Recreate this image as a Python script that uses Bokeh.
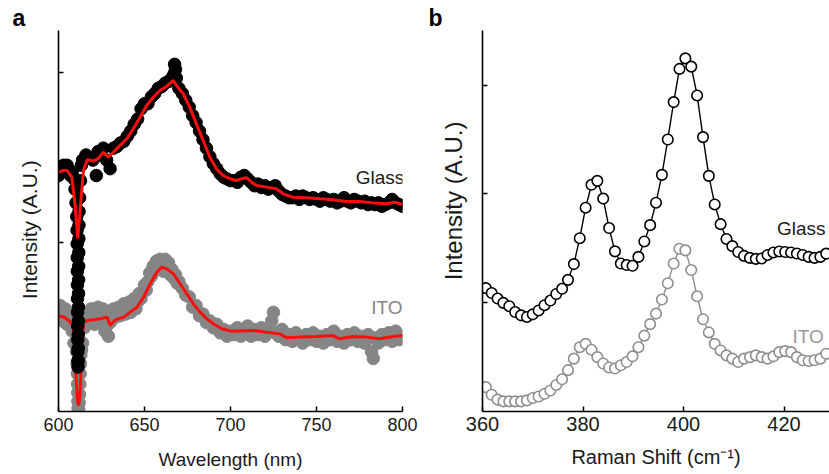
from bokeh.plotting import figure
from bokeh.layouts import row
from bokeh.models import Range1d, FixedTicker, Label
from bokeh.embed import file_html
from bokeh.resources import INLINE

FONT = "Liberation Sans"

# ---------------- Panel a : PL spectra ----------------
wl_ticks = [600, 650, 700, 750, 800]

glass_fit_x = [600, 602.5, 605, 607.8, 609.7, 611.2, 612.9, 614.5, 616.8, 620.3, 623.2, 626.1, 629, 631.9,
               635.8, 639.7, 643.5, 647.4, 651.3, 655.1, 659, 662.8, 665.7, 666.7, 668.6, 672.5, 676.3,
               680.2, 684.1, 688, 691.8, 695.7, 699.6, 703.5, 706.4, 709.3, 712.2, 715.1, 720.9, 726.7,
               730.6, 736.4, 744.2, 751.9, 759.7, 767.4, 775.1, 782.9, 790.6, 795.4, 800]
glass_fit_y = [1.399, 1.409, 1.409, 1.370, 1.199, 1.012, 1.216, 1.409, 1.474, 1.464, 1.480, 1.516, 1.487,
               1.516, 1.556, 1.595, 1.653, 1.721, 1.789, 1.838, 1.877, 1.901, 1.926, 1.936, 1.906, 1.858,
               1.780, 1.682, 1.585, 1.487, 1.419, 1.380, 1.361, 1.351, 1.361, 1.367, 1.341, 1.322, 1.312,
               1.302, 1.273, 1.253, 1.250, 1.244, 1.238, 1.228, 1.228, 1.220, 1.215, 1.224, 1.211]

glass_dot_x = [600, 601, 602, 603, 604, 605, 606, 607, 608, 609, 609.6, 610.2, 610.6,
               610.8, 610.85, 610.9, 610.95, 611.0, 611.05, 611.1, 611.15, 611.2, 611.25, 611.3, 611.35,
               611.4, 611.45, 611.5, 611.55, 611.6, 611.65, 611.7, 611.75, 611.8, 611.85, 611.9, 611.95,
               612.3, 612.8, 613.3, 614, 616, 618, 620, 622, 623, 624, 626, 628, 630, 632, 634, 636, 638,
               640, 642, 644, 646, 648, 650, 652, 654, 656, 658, 660, 662, 664, 666, 667, 667.5, 668,
               668.5, 670, 672, 674, 676, 678, 680, 682, 684, 686, 688, 690, 692, 694, 696, 698, 700,
               702, 704, 706, 708, 710, 712, 714, 716, 718, 720, 722, 724, 726, 728, 730, 732, 734, 736,
               738, 740, 742, 744, 746, 748, 750, 752, 754, 756, 758, 760, 762, 764, 766, 768, 770, 772,
               774, 776, 778, 780, 782, 784, 786, 788, 790, 792, 794, 796, 798, 800]
glass_dot_y = [1.38, 1.43, 1.41, 1.44, 1.42, 1.44, 1.41, 1.38, 1.40, 1.36, 1.30, 1.22, 1.14,
               1.06, 0.98, 0.90, 0.82, 0.74, 0.66, 0.58, 0.50, 0.42, 0.35, 0.29, 0.26,
               0.30, 0.37, 0.45, 0.53, 0.61, 0.69, 0.77, 0.85, 0.93, 1.01, 1.09, 1.17,
               1.25, 1.35, 1.44, 1.47, 1.50, 1.48, 1.47, 1.38, 1.52, 1.50, 1.54, 1.47, 1.42, 1.54, 1.55,
               1.57, 1.58, 1.61, 1.64, 1.68, 1.71, 1.77, 1.80, 1.80, 1.84, 1.86, 1.89, 1.90, 1.92, 1.93,
               1.95, 1.97, 2.03, 2.00, 1.95, 1.89, 1.86, 1.82, 1.78, 1.73, 1.69, 1.64, 1.59, 1.54, 1.49,
               1.45, 1.42, 1.39, 1.37, 1.36, 1.35, 1.35, 1.34, 1.37, 1.38, 1.36, 1.34, 1.32, 1.33, 1.31,
               1.32, 1.30, 1.31, 1.32, 1.29, 1.27, 1.26, 1.25, 1.25, 1.26, 1.24, 1.26, 1.25, 1.24, 1.25,
               1.24, 1.23, 1.25, 1.24, 1.23, 1.24, 1.22, 1.23, 1.25, 1.23, 1.22, 1.24, 1.23, 1.22, 1.23,
               1.21, 1.22, 1.21, 1.22, 1.20, 1.21, 1.22, 1.24, 1.22, 1.21, 1.20]

ito_fit_x = [600, 603, 606, 608.5, 610, 611, 611.8, 612.5, 613.3, 614.5, 616.6, 620.5, 624.3, 628.2, 630.1,
             633, 637.9, 641.7, 645.6, 649.5, 653.3, 657.2, 660.1, 663, 666.8, 670.7, 674.6, 678.4, 682.3,
             686.2, 690, 694.9, 700.5, 713.2, 721, 728.7, 732.6, 740.3, 750, 759.6, 763.5, 771.2, 779,
             786.7, 794.4, 800]
ito_fit_y = [0.561, 0.552, 0.532, 0.500, 0.250, 0.060, 0.035, 0.100, 0.300, 0.520, 0.532, 0.536, 0.542,
             0.552, 0.503, 0.536, 0.552, 0.581, 0.610, 0.668, 0.747, 0.815, 0.844, 0.834, 0.805, 0.747,
             0.688, 0.630, 0.581, 0.542, 0.513, 0.484, 0.470, 0.474, 0.464, 0.454, 0.431, 0.435, 0.439,
             0.444, 0.425, 0.439, 0.435, 0.425, 0.439, 0.444]

ito_dot_x = [600, 601, 602, 603, 604, 605, 606, 607, 608, 609,
             610.5, 610.8, 611.0, 611.1, 611.2, 611.3, 611.4, 611.6, 611.8, 612.0, 612.2, 612.4, 612.6,
             612.8, 613.0, 613.4, 614,
             615, 616, 617, 618, 619, 620, 621, 622, 623, 624, 625, 626, 627, 628, 629, 630, 631, 632,
             633, 634, 635, 636, 637, 638, 639, 640, 641, 642, 643, 644, 645, 646, 647, 648, 649, 650,
             651, 652, 653, 654, 655, 656, 657, 658, 659, 660, 661, 662, 663, 664, 665, 666, 667, 668,
             669, 670, 672, 674, 676, 678, 680, 682, 684, 686, 688, 690, 692, 694, 696, 698, 700, 702,
             704, 706, 708, 710, 712, 714, 716, 718, 720, 722, 724, 725, 726, 728, 730, 732, 734, 736,
             738, 740, 742, 744, 746, 748, 750, 752, 754, 756, 758, 760, 762, 764, 766, 768, 770, 772,
             774, 776, 778, 780, 782, 783, 784, 786, 788, 790, 792, 794, 796, 798, 800]
ito_dot_y = [0.58, 0.62, 0.53, 0.57, 0.60, 0.51, 0.55, 0.50, 0.47, 0.40,
             0.35, 0.28, 0.22, 0.16, 0.11, 0.06, 0.02, 0.00, 0.01, 0.05, 0.10, 0.16, 0.22,
             0.28, 0.33, 0.36, 0.40,
             0.49, 0.53, 0.58, 0.54, 0.60, 0.55, 0.51, 0.58, 0.61, 0.54, 0.56, 0.60, 0.47, 0.50, 0.44,
             0.52, 0.57, 0.60, 0.55, 0.58, 0.61, 0.56, 0.59, 0.63, 0.57, 0.61, 0.64, 0.58, 0.62, 0.66,
             0.60, 0.64, 0.69, 0.66, 0.70, 0.74, 0.71, 0.76, 0.81, 0.79, 0.85, 0.84, 0.88, 0.83, 0.89,
             0.86, 0.82, 0.89, 0.84, 0.87, 0.80, 0.83, 0.78, 0.80, 0.75, 0.76, 0.72, 0.68, 0.67, 0.61,
             0.62, 0.56, 0.57, 0.52, 0.53, 0.49, 0.51, 0.46, 0.48, 0.44, 0.47, 0.45, 0.49, 0.44, 0.47,
             0.50, 0.44, 0.48, 0.45, 0.49, 0.44, 0.47, 0.53, 0.58, 0.46, 0.44, 0.48, 0.42, 0.45, 0.41,
             0.46, 0.43, 0.40, 0.45, 0.42, 0.46, 0.41, 0.44, 0.40, 0.45, 0.42, 0.47, 0.41, 0.44, 0.40,
             0.45, 0.42, 0.46, 0.41, 0.44, 0.40, 0.45, 0.35, 0.31, 0.43, 0.40, 0.45, 0.42, 0.46, 0.41,
             0.47, 0.42, 0.44]

# ---------------- Panel b : Raman spectra ----------------
raman_ticks = [360, 380, 400, 420]
raman_x = [360.66, 361.83, 363.00, 364.16, 365.33, 366.50, 367.67, 368.84, 370.00, 371.17, 372.34,
           373.51, 374.68, 375.84, 377.01, 378.18, 379.35, 380.52, 381.68, 382.85, 384.02, 385.19,
           386.36, 387.52, 388.69, 389.86, 391.03, 392.20, 393.36, 394.53, 395.70, 396.87, 398.04,
           399.20, 400.37, 401.54, 402.71, 403.88, 405.04, 406.21, 407.38, 408.55, 409.72, 410.88,
           412.05, 413.22, 414.39, 415.56, 416.72, 417.89, 419.06, 420.23, 421.40, 422.56, 423.73,
           424.90, 426.07, 427.24, 428.40]
raman_glass = [1.134, 1.089, 1.038, 0.998, 0.968, 0.914, 0.884, 0.869, 0.893, 0.929, 0.977, 1.020,
               1.080, 1.128, 1.210, 1.355, 1.593, 1.873, 2.084, 2.120, 1.957, 1.686, 1.472, 1.360,
               1.346, 1.339, 1.421, 1.563, 1.713, 1.919, 2.175, 2.500, 2.844, 3.149, 3.246, 3.170,
               2.905, 2.522, 2.166, 1.903, 1.722, 1.586, 1.520, 1.466, 1.430, 1.412, 1.403, 1.407,
               1.439, 1.462, 1.471, 1.466, 1.462, 1.452, 1.439, 1.421, 1.412, 1.421, 1.451]
raman_ito = [0.224, 0.154, 0.109, 0.093, 0.093, 0.093, 0.093, 0.102, 0.124, 0.138, 0.163, 0.193,
             0.244, 0.296, 0.380, 0.486, 0.591, 0.622, 0.567, 0.500, 0.441, 0.405, 0.395, 0.425,
             0.455, 0.507, 0.591, 0.697, 0.803, 0.900, 1.029, 1.179, 1.360, 1.496, 1.481, 1.300,
             1.059, 0.848, 0.727, 0.622, 0.561, 0.516, 0.486, 0.455, 0.486, 0.500, 0.516, 0.500,
             0.486, 0.507, 0.546, 0.555, 0.546, 0.500, 0.471, 0.464, 0.471, 0.486, 0.531]

RED = "#ff0d0d"
GREY_A = "#858585"
GREY_B = "#8e8e8e"
NB = "\u00a0"


def style(p, xticks, yticks, xlabel, ylabel, tick_fs, label_fs, ylabel_fs,
          xtick_standoff, xlabel_standoff, ylabel_standoff):
    p.outline_line_color = None
    p.xgrid.visible = False
    p.ygrid.visible = False
    for ax in (p.xaxis[0], p.yaxis[0]):
        ax.axis_line_color = "black"
        ax.axis_line_width = 1.6
        ax.major_tick_line_color = "black"
        ax.major_tick_line_width = 1.5
        ax.major_tick_in = 5
        ax.major_tick_out = 0
        ax.minor_tick_line_color = None
        ax.axis_label_text_font = FONT
        ax.axis_label_text_font_style = "normal"
        ax.axis_label_text_color = "#1a1a1a"
        ax.major_label_text_font = FONT
        ax.major_label_text_color = "#1a1a1a"
    p.xaxis.ticker = FixedTicker(ticks=xticks)
    p.xaxis.major_label_text_font_size = tick_fs
    p.xaxis.major_label_standoff = xtick_standoff
    p.xaxis.axis_label = xlabel
    p.xaxis.axis_label_text_font_size = label_fs
    p.xaxis.axis_label_standoff = xlabel_standoff
    p.yaxis.ticker = FixedTicker(ticks=yticks)
    p.yaxis.major_label_overrides = {t: "" for t in yticks}
    p.yaxis.major_label_standoff = 0
    p.yaxis.axis_label = ylabel
    p.yaxis.axis_label_text_font_size = ylabel_fs
    p.yaxis.axis_label_standoff = ylabel_standoff
    p.title.text_font = FONT
    p.title.text_font_size = "23px"
    p.title.text_font_style = "bold"
    p.title.text_color = "black"
    p.title.align = "left"
    p.title.standoff = 0


# Panel a
pa = figure(width=420, height=474, output_backend="svg", toolbar_location=None, title="a",
            x_range=Range1d(600, 800), y_range=Range1d(0, 2.228),
            min_border_left=58, min_border_right=18, min_border_top=30, min_border_bottom=63)
pa.background_fill_color = "white"
pa.border_fill_color = "white"
style(pa, wl_ticks, [0.99, 1.98], "Wavelength (nm)", "Intensity (A.U.)" + NB * 3,
      "18px", "19px", "21px", 6, 15, 18)
pa.title.offset = -46

pa.scatter(ito_dot_x, ito_dot_y, size=12.5, marker="circle", fill_color=GREY_A, line_color=GREY_A)
pa.line(ito_fit_x, ito_fit_y, line_color=RED, line_width=3)
pa.scatter(glass_dot_x, glass_dot_y, size=12.5, marker="circle", fill_color="black", line_color="black")
pa.line(glass_fit_x, glass_fit_y, line_color=RED, line_width=3)

pa.add_layout(Label(x=801, y=1.305, text="Glass", text_align="right", text_font=FONT,
                    text_font_size="19px", text_color="#1a1a1a"))
pa.add_layout(Label(x=800, y=0.545, text="ITO", text_align="right", text_font=FONT,
                    text_font_size="19px", text_color=GREY_A))

# Panel b
pb = figure(width=409, height=474, output_backend="svg", toolbar_location=None, title="b",
            x_range=Range1d(360, 429.05), y_range=Range1d(0, 3.502),
            min_border_left=62, min_border_right=0, min_border_top=25, min_border_bottom=62)
pb.background_fill_color = "white"
pb.border_fill_color = "white"
style(pb, raman_ticks, [1, 2, 3], "Raman Shift (cm\u207b\u00b9)", NB * 6 + "Intensity (A.U.)",
      "20px", "20px", "24px", 5, 12, 16)
pb.title.offset = -54

pb.line(raman_x, raman_ito, line_color=GREY_B, line_width=1.4)
pb.scatter(raman_x, raman_ito, size=10.5, marker="circle", fill_color="white", line_color=GREY_B,
           line_width=1.6)
pb.line(raman_x, raman_glass, line_color="black", line_width=1.4)
pb.scatter(raman_x, raman_glass, size=10.5, marker="circle", fill_color="white", line_color="black",
           line_width=1.6)

pb.add_layout(Label(x=428.26, y=1.581, text="Glass", text_align="right", text_font=FONT,
                    text_font_size="19px", text_color="#1a1a1a"))
pb.add_layout(Label(x=427.9, y=0.591, text="ITO", text_align="right", text_font=FONT,
                    text_font_size="19px", text_color="#9a9a9a"))

layout = row(pa, pb)
open("out.html", "w").write(file_html(layout, INLINE))
